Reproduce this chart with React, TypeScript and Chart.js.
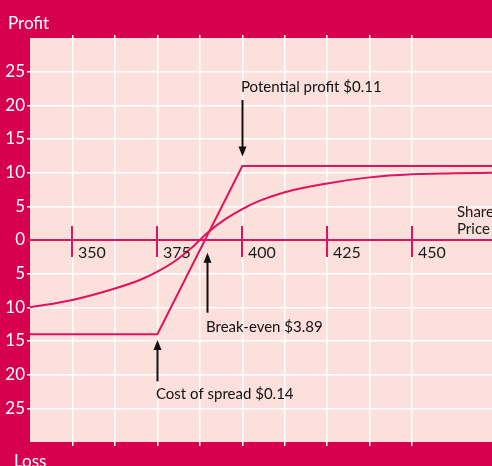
import React, { useEffect, useRef } from "react";
import { Chart, registerables } from "chart.js";

Chart.register(...registerables);

// ---- data ----
const curvePrices = [337.5, 350, 362.5, 370, 375, 380, 385, 390, 395, 400, 405, 412.5, 425, 437.5, 450, 462.5, 473.5];
const curveProfit = [-10, -8.9, -7.2, -5.9, -4.7, -3.2, -1.2, 1.2, 3.1, 4.6, 5.8, 7.1, 8.4, 9.3, 9.75, 9.9, 10];
const spreadPrices = [337.5, 375, 400, 473.5];
const spreadProfit = [-14, -14, 11, 11];
const xTickValues = [350, 375, 400, 425, 450];
const annotationTexts = ["Potential profit $0.11", "Break-even $3.89", "Cost of spread $0.14"];
const annotationX = [400, 389.5, 375];
const annotationTipY = [12.4, -1.9, -14.85];
const annotationTailY = [20.8, -10.8, -21.0];
const annotationTextY = [22.0, -13.6, -23.6];

const X_MIN = 337.5;
const X_MAX = 473.5;
const Y_MIN = -30;
const Y_MAX = 30;

const BG = "#d7004f";
const PLOT_BG = "#fce0dc";
const LINE = "#e0135c";
const FONT = "Lato";

const decorPlugin = {
  id: "decor",
  beforeDraw(chart: any) {
    const { ctx, chartArea: a } = chart;
    ctx.save();
    ctx.fillStyle = BG;
    ctx.fillRect(0, 0, chart.width, chart.height);
    ctx.fillStyle = PLOT_BG;
    ctx.fillRect(a.left, a.top, a.right - a.left, a.bottom - a.top);
    ctx.restore();
  },
  afterDatasetsDraw(chart: any) {
    const { ctx, scales, chartArea: a } = chart;
    const xs = scales.x;
    const ys = scales.y;
    const y0 = ys.getPixelForValue(0);
    ctx.save();
    // x-axis ticks and labels
    ctx.strokeStyle = LINE;
    ctx.lineWidth = 2;
    ctx.fillStyle = "#1a1a1a";
    ctx.font = `16px ${FONT}`;
    ctx.textBaseline = "alphabetic";
    ctx.textAlign = "left";
    xTickValues.forEach((v) => {
      const px = Math.round(xs.getPixelForValue(v));
      ctx.beginPath();
      ctx.moveTo(px, y0 - 14);
      ctx.lineTo(px, y0 + 17);
      ctx.stroke();
      ctx.fillText(String(v), px + 6, y0 + 18);
    });
    ctx.font = `15px ${FONT}`;
    ctx.fillText("Share", a.right - 35, y0 - 23);
    ctx.fillText("Price", a.right - 35, y0 - 6);

    // annotations
    ctx.strokeStyle = "#111";
    ctx.fillStyle = "#111";
    ctx.lineWidth = 2;
    annotationTexts.forEach((t, i) => {
      const px = Math.round(xs.getPixelForValue(annotationX[i])) + 0.5;
      const tip = ys.getPixelForValue(annotationTipY[i]);
      const tail = ys.getPixelForValue(annotationTailY[i]);
      const dir = tail < tip ? 1 : -1;
      ctx.beginPath();
      ctx.moveTo(px, tail);
      ctx.lineTo(px, tip - dir * 8);
      ctx.stroke();
      ctx.beginPath();
      ctx.moveTo(px, tip);
      ctx.lineTo(px - 4, tip - dir * 10);
      ctx.lineTo(px + 4, tip - dir * 10);
      ctx.closePath();
      ctx.fill();
      ctx.font = `15px ${FONT}`;
      ctx.fillText(t, px - 1.5, ys.getPixelForValue(annotationTextY[i]));
    });

    // axis titles
    ctx.fillStyle = "#ffffff";
    ctx.font = `17px ${FONT}`;
    ctx.fillText("Profit", 8, 29);
    ctx.fillText("Loss", 14, 467);
    ctx.restore();
  },
};

export default function App() {
  const ref = useRef<HTMLCanvasElement | null>(null);
  useEffect(() => {
    if (!ref.current) return;
    const gridX = (c: any) => {
      const v = c.tick ? c.tick.value : 0;
      if (v <= X_MIN || v >= X_MAX) return "rgba(0,0,0,0)";
      return Math.abs((v / 12.5) - Math.round(v / 12.5)) < 1e-6 ? "#ffffff" : "rgba(0,0,0,0)";
    };
    const chart = new Chart(ref.current, {
      type: "line",
      data: {
        datasets: [
          {
            data: curvePrices.map((x, i) => ({ x, y: curveProfit[i] })),
            borderColor: LINE,
            borderWidth: 2,
            pointRadius: 0,
            cubicInterpolationMode: "monotone",
            fill: false,
          },
          {
            data: spreadPrices.map((x, i) => ({ x, y: spreadProfit[i] })),
            borderColor: LINE,
            borderWidth: 2,
            pointRadius: 0,
            tension: 0,
            fill: false,
          },
        ],
      },
      options: {
        animation: false,
        responsive: false,
        devicePixelRatio: 1,
        layout: { padding: 0 },
        plugins: { legend: { display: false }, tooltip: { enabled: false }, title: { display: false } },
        scales: {
          x: {
            type: "linear",
            position: "bottom",
            min: X_MIN,
            max: X_MAX,
            ticks: { display: false, stepSize: 12.5 },
            grid: { color: gridX, lineWidth: 1.5, drawTicks: true, tickLength: 4 },
            border: { display: false },
            afterFit: (s: any) => { s.height = 24; },
          },
          x2: {
            type: "linear",
            position: "top",
            min: X_MIN,
            max: X_MAX,
            ticks: { display: false, stepSize: 12.5 },
            grid: { color: gridX, lineWidth: 1.5, drawOnChartArea: false, drawTicks: true, tickLength: 3 },
            border: { display: false },
            afterFit: (s: any) => { s.height = 38; },
          },
          y: {
            type: "linear",
            min: Y_MIN,
            max: Y_MAX,
            ticks: {
              stepSize: 5,
              color: "#ffffff",
              padding: 2,
              font: { family: FONT, size: 17 },
              callback: (v: any) => (Math.abs(v) >= 30 ? "" : String(Math.abs(v))),
            },
            grid: {
              color: (c: any) => {
                const v = c.tick ? c.tick.value : 0;
                if (Math.abs(v) >= 30) return "rgba(0,0,0,0)";
                if (v === 0) return LINE;
                return "#ffffff";
              },
              lineWidth: (c: any) => (c.tick && c.tick.value === 0 ? 2 : 1.5),
              tickLength: 3,
            },
            border: { display: false },
            afterFit: (s: any) => { s.width = 30; },
          },
        },
      },
      plugins: [decorPlugin],
    } as any);
    return () => chart.destroy();
  }, []);
  return (
    <div style={{ position: "absolute", left: 0, top: 0, width: 492, height: 466 }}>
      <canvas ref={ref} width={492} height={466} style={{ display: "block", width: 492, height: 466 }} />
    </div>
  );
}
